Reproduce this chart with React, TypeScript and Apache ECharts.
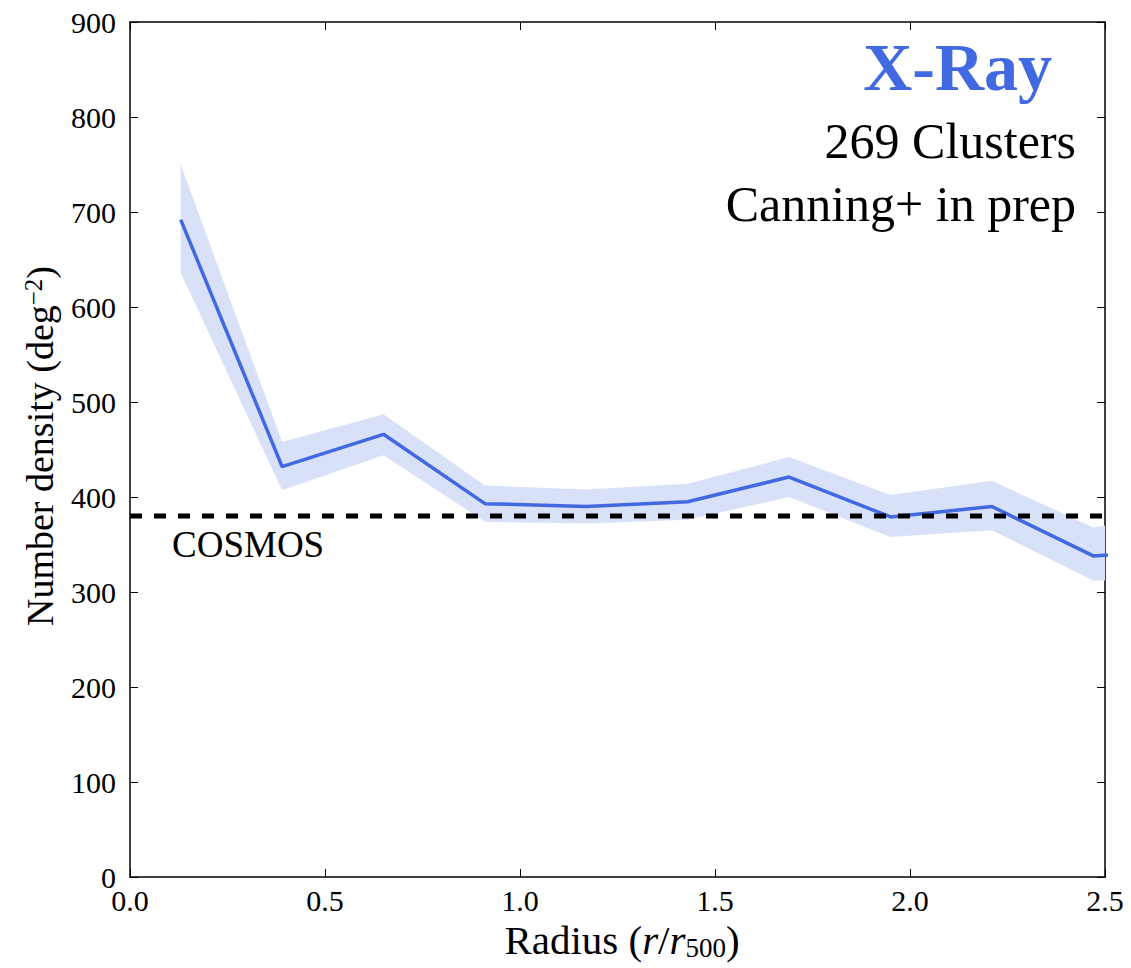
import React, { useEffect, useRef } from "react";
import * as echarts from "echarts";

const radius = [0.13, 0.39, 0.65, 0.91, 1.17, 1.43, 1.69, 1.95, 2.21, 2.47, 2.73];
const density = [692, 432, 466, 393, 390, 395, 421, 379, 390, 338, 344];
const upper = [750, 458, 487, 412, 408, 414, 442, 402, 417, 368, 386];
const lower = [636, 407, 444, 374, 372, 376, 400, 358, 365, 312, 313];
const cosmosLevel = 380;
const xTicks = [0, 0.5, 1.0, 1.5, 2.0, 2.5];
const yTicks = [0, 100, 200, 300, 400, 500, 600, 700, 800, 900];

const FONT = "Liberation Serif";
const BLUE = "#4169E1";
const BAND = "#d9e1f9";

export default function App() {
  const ref = useRef<HTMLDivElement>(null);
  useEffect(() => {
    if (!ref.current) return;
    const chart = echarts.init(ref.current, null, { renderer: "svg" });
    const axisLine = { show: true, onZero: false, lineStyle: { color: "#000", width: 1.5 } };
    const axisTick = { show: true, inside: true, length: 8, lineStyle: { color: "#000", width: 1 } };
    const xMin = xTicks[0], xMax = xTicks[xTicks.length - 1];
    const yMin = yTicks[0], yMax = yTicks[yTicks.length - 1];
    const txt = (size: number, extra: any = {}) => ({
      fontSize: size, fontFamily: FONT, fontWeight: "normal", fontStyle: "normal", fill: "#000", ...extra,
    });
    const option: any = {
      animation: false,
      textStyle: { fontFamily: FONT },
      grid: { left: 130, right: 26, top: 22, bottom: 91, containLabel: false },
      xAxis: [
        {
          type: "value", min: xMin, max: xMax, interval: 0.5, position: "bottom",
          axisLine, axisTick,
          axisLabel: { fontSize: 30, color: "#000", margin: 8, fontFamily: FONT, formatter: (v: number) => v.toFixed(1) },
          splitLine: { show: false },
        },
        {
          type: "value", min: xMin, max: xMax, interval: 0.5, position: "top",
          axisLine, axisTick, axisLabel: { show: false }, splitLine: { show: false },
        },
      ],
      yAxis: [
        {
          type: "value", min: yMin, max: yMax, interval: 100, position: "left",
          axisLine, axisTick,
          axisLabel: { fontSize: 30, color: "#000", margin: 14, fontFamily: FONT },
          splitLine: { show: false },
        },
        {
          type: "value", min: yMin, max: yMax, interval: 100, position: "right",
          axisLine, axisTick, axisLabel: { show: false }, splitLine: { show: false },
        },
      ],
      series: [
        {
          type: "custom",
          clip: true,
          z: 1,
          data: radius.map((r, i) => [r, lower[i], upper[i]]),
          renderItem: (params: any, api: any) => {
            if (params.dataIndex !== 0) return null;
            const pts: number[][] = [];
            for (let i = 0; i < radius.length; i++) pts.push(api.coord([radius[i], upper[i]]));
            for (let i = radius.length - 1; i >= 0; i--) pts.push(api.coord([radius[i], lower[i]]));
            return { type: "polygon", shape: { points: pts }, style: { fill: BAND, stroke: "none" } };
          },
        },
        {
          type: "line",
          z: 3,
          data: radius.map((r, i) => [r, density[i]]),
          showSymbol: false,
          symbol: "none",
          clip: true,
          lineStyle: { color: BLUE, width: 3.5 },
        },
        {
          type: "line",
          z: 4,
          data: [[xMin, cosmosLevel], [xMax, cosmosLevel]],
          showSymbol: false,
          symbol: "none",
          lineStyle: { color: "#000", width: 5, type: [12, 12] },
          markPoint: {
            silent: true,
            symbol: "rect",
            symbolSize: 0,
            data: [
              {
                coord: [xMin, cosmosLevel],
                label: {
                  show: true, position: "right", offset: [37, 28],
                  formatter: "COSMOS", fontSize: 37, fontFamily: FONT, color: "#000",
                },
              },
            ],
          },
        },
      ],
      title: [
        {
          text: "X-Ray", right: 74, top: 28,
          textStyle: { fontSize: 68, fontWeight: "bold", fontFamily: FONT, color: BLUE },
        },
        {
          text: "269 Clusters", right: 50, top: 111,
          textStyle: { fontSize: 50, fontWeight: "normal", fontFamily: FONT, color: "#000" },
        },
        {
          text: "Canning+ in prep", right: 50, top: 174,
          textStyle: { fontSize: 50, fontWeight: "normal", fontFamily: FONT, color: "#000" },
        },
      ],
      graphic: [
        {
          type: "text", x: 622, y: 940, z: 10,
          style: {
            text: "{n|Radius (}{it|r}{n|/}{it|r}{sub|500}{n|)}",
            align: "center", verticalAlign: "middle", ...txt(41),
            rich: {
              n: txt(41),
              it: txt(41, { fontStyle: "italic" }),
              sub: txt(27, { verticalAlign: "bottom", padding: [15, 0, 0, 0] }),
            },
          },
        },
        {
          type: "text", x: 40, y: 446, rotation: Math.PI / 2, z: 10,
          style: {
            text: "{n|Number density (deg}{sup|\u22122}{n|)}",
            align: "center", verticalAlign: "middle", ...txt(38),
            rich: {
              n: txt(38),
              sup: txt(25, { verticalAlign: "top", padding: [0, 0, 14, 0] }),
            },
          },
        },
      ],
    };
    chart.setOption(option);
    return () => chart.dispose();
  }, []);
  return (
    <div
      ref={ref}
      style={{ position: "absolute", left: 0, top: 0, width: 1131, height: 968, background: "#fff" }}
    />
  );
}
